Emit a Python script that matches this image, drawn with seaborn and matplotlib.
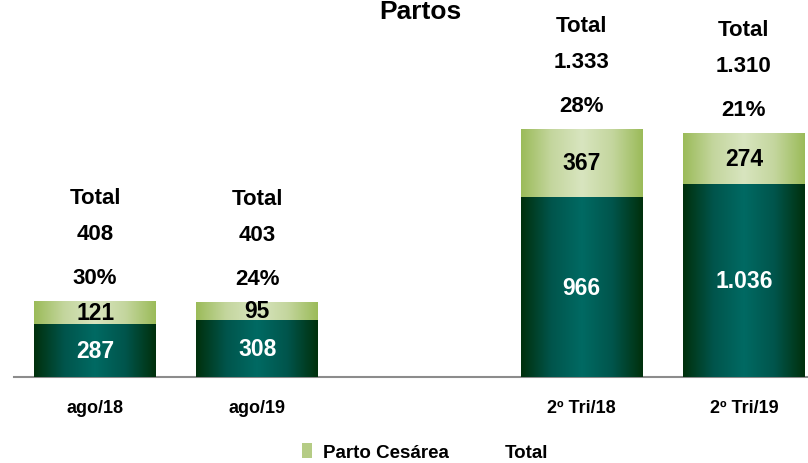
import numpy as np
import pandas as pd
import matplotlib
matplotlib.use('Agg')
import matplotlib.pyplot as plt
from matplotlib.colors import LinearSegmentedColormap
from matplotlib.patches import Patch
import seaborn as sns

# dados
periodos = ['ago/18', 'ago/19', ' ', '2º Tri/18', '2º Tri/19']
normal = [287, 308, np.nan, 966, 1036]
cesarea = [121, 95, np.nan, 367, 274]

df = pd.DataFrame({'Periodo': periodos, 'Normal': normal, 'Cesarea': cesarea})
df['Total'] = df['Normal'] + df['Cesarea']

sns.set_theme(style='white')
plt.rcParams['font.family'] = ['Liberation Sans', 'DejaVu Sans']
plt.rcParams['font.weight'] = 'bold'
plt.rcParams['text.color'] = 'black'
plt.rcParams['xtick.color'] = 'black'


def fmt(v):
    return f'{int(v):,}'.replace(',', '.')


fig = plt.figure(figsize=(8.08, 4.64), dpi=100)
ax = fig.add_axes([14 / 808, 86 / 464, 794 / 808, 378 / 464])

sns.barplot(data=df, x='Periodo', y='Total', order=periodos, color='#b5cc85',
            width=0.75, ax=ax, saturation=1)
n_verde = len(ax.patches)
sns.barplot(data=df, x='Periodo', y='Normal', order=periodos, color='#005a50',
            width=0.75, ax=ax, saturation=1)

# gradientes nas barras
verde = LinearSegmentedColormap.from_list('verde', ['#9bbb59', '#c4d69e', '#d8e5bf', '#c4d69e', '#9bbb59'])
escuro = LinearSegmentedColormap.from_list('escuro', ['#00300c', '#00554c', '#006a63', '#00554c', '#00300c'])
grad = np.linspace(0, 1, 256).reshape(1, -1)
for i, p in enumerate(list(ax.patches)):
    h = p.get_height()
    if h == 0 or np.isnan(h):
        continue
    x0, y0, w = p.get_x(), p.get_y(), p.get_width()
    cmap = verde if i < n_verde else escuro
    im = ax.imshow(grad, cmap=cmap, aspect='auto', extent=[x0, x0 + w, y0, y0 + h],
                   zorder=2 if i < n_verde else 3)
    im.set_clip_path(p)
ax.set_xlim(-0.5, 4.395)
ax.set_ylim(0, 2029)

for i, row in df.iterrows():
    if np.isnan(row['Total']):
        continue
    ax.text(i, row['Normal'] / 2, fmt(row['Normal']), ha='center', va='center',
            color='white', fontsize=16.5, fontweight='bold', zorder=10)
    ax.text(i, row['Normal'] + row['Cesarea'] / 2, fmt(row['Cesarea']), ha='center',
            va='center', color='black', fontsize=16.5, fontweight='bold', zorder=10)
    pct = round(row['Cesarea'] / row['Total'] * 100)
    ax.annotate(f'{pct}%', (i, row['Total']), xytext=(0, 23), textcoords='offset pixels',
                ha='center', va='center', fontsize=16, fontweight='bold')
    ax.annotate(fmt(row['Total']), (i, row['Total']), xytext=(0, 67), textcoords='offset pixels',
                ha='center', va='center', fontsize=16, fontweight='bold')
    ax.annotate('Total', (i, row['Total']), xytext=(0, 103), textcoords='offset pixels',
                ha='center', va='center', fontsize=16, fontweight='bold')

sns.despine(ax=ax, left=True)
ax.spines['bottom'].set_color('#8c8c8c')
ax.spines['bottom'].set_linewidth(1.5)
ax.set_yticks([])
ax.set_xlabel('')
ax.set_ylabel('')
ax.tick_params(axis='x', length=0, pad=16)
for t in ax.get_xticklabels():
    t.set_fontsize(13)
    t.set_fontweight('bold')

fig.text(420 / 808, 0.999, 'Partos', ha='center', va='top', fontsize=19, fontweight='bold')

handles = [Patch(facecolor='#b5cc85', edgecolor='none'), Patch(facecolor='none', edgecolor='none')]
fig.legend(handles, ['Parto Cesárea', 'Total'], loc='center', bbox_to_anchor=(425 / 808, 11 / 464),
           ncol=2, frameon=False, handlelength=0.55, handleheight=0.9, columnspacing=1.8,
           handletextpad=0.6, prop={'weight': 'bold', 'size': 13.5})

fig.savefig('out.png', dpi=100)
